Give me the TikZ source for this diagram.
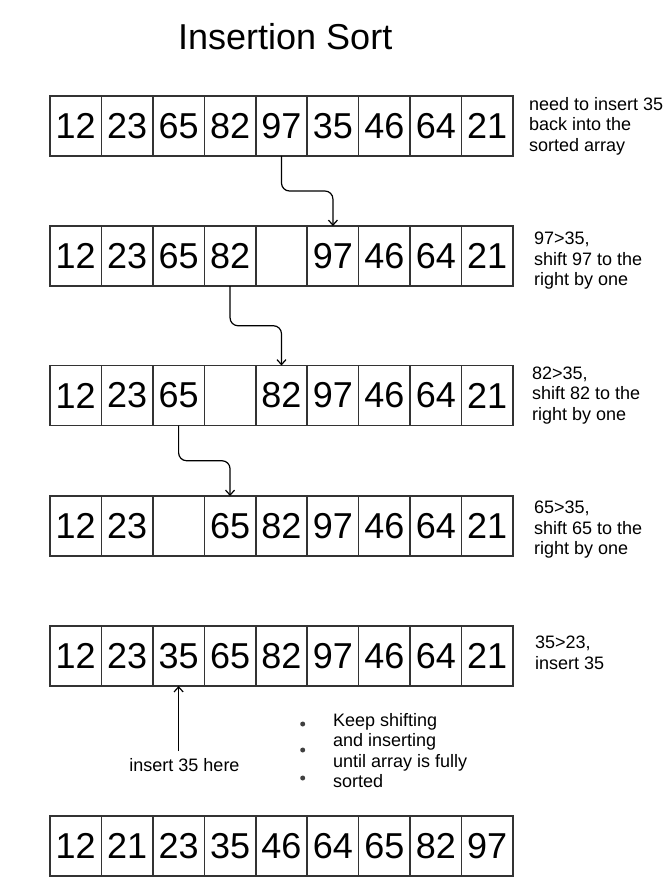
\documentclass[tikz,border=0pt]{standalone}
\usepackage{fontspec}
\setmainfont{Liberation Sans}
\usetikzlibrary{positioning,calc,arrows.meta}

\tikzset{
    cell/.style={draw=black!80, line width=1.6pt, minimum width=51.44pt, minimum height=60pt,
        inner sep=0pt, outer sep=0pt, font=\fontsize{36}{36}\selectfont},
    note/.style={align=left, inner sep=0pt, font=\fontsize{18}{20.5}\selectfont},
    bullet/.style={circle, fill=black!75, inner sep=0pt, minimum size=5pt},
}

\begin{document}
\begin{tikzpicture}[x=1pt, y=-1pt, >={Straight Barb[length=5pt,width=9pt]}]
            \useasboundingbox (0,0) rectangle (670,890);
            \node[anchor=base west, inner sep=0pt, font=\fontsize{36}{36}\selectfont] (title) at (178,50) {Insertion Sort};

            % the six arrays
            \foreach \row/\y/\vals in {1/126/{12,23,65,82,97,35,46,64,21},
                                       2/256/{12,23,65,82,{},97,46,64,21},
                                       3/395.5/{12,23,65,{},82,97,46,64,21},
                                       4/526/{12,23,{},65,82,97,46,64,21},
                                       5/656/{12,23,35,65,82,97,46,64,21},
                                       6/846/{12,21,23,35,46,64,65,82,97}}
                \foreach \v [count=\col] in \vals
                    \node[cell] (r\row-\col) at ({50+51.44*(\col-0.5)},\y) {\v};

            \node[note, right=16pt of r1-9] (n1) {need to insert 35\\back into the\\sorted array};
            \node[note, right=21pt of r2-9, yshift=-5pt] (n2) {97>35,\\shift 97 to the\\right by one};
            \node[note, right=19pt of r3-9] (n3) {82>35,\\shift 82 to the\\right by one};
            \node[note, right=21pt of r4-9, yshift=-4pt] (n4) {65>35,\\shift 65 to the\\right by one};
            \node[note, right=22pt of r5-9, yshift=3pt] (n5) {35>23,\\insert 35};

            \draw[very thick,->,rounded corners=8pt] (r1-5.south) |- ($(r1-5.south)!.5!(r2-6.north)$) -| (r2-6.north);
            \draw[very thick,->,rounded corners=8pt] (r2-4.south) |- ($(r2-4.south)!.5!(r3-5.north)$) -| (r3-5.north);
            \draw[very thick,->,rounded corners=8pt] (r3-3.south) |- ($(r3-3.south)!.5!(r4-4.north)$) -| (r4-4.north);

            \coordinate (H) at (178.6,751);
            \draw[very thick,->] (H) -- (r5-3.south);
            \node[note] (here) at (184.5,765.5) {insert 35 here};

            \node[bullet] (b1) at (302.7,724) {};
            \node[bullet] (b2) at (302.7,750) {};
            \node[bullet] (b3) at (302.7,778) {};
            \node[note, anchor=north west] (keep) at (333,713) {Keep shifting\\and inserting\\until array is fully\\sorted};
\end{tikzpicture}
\end{document}
